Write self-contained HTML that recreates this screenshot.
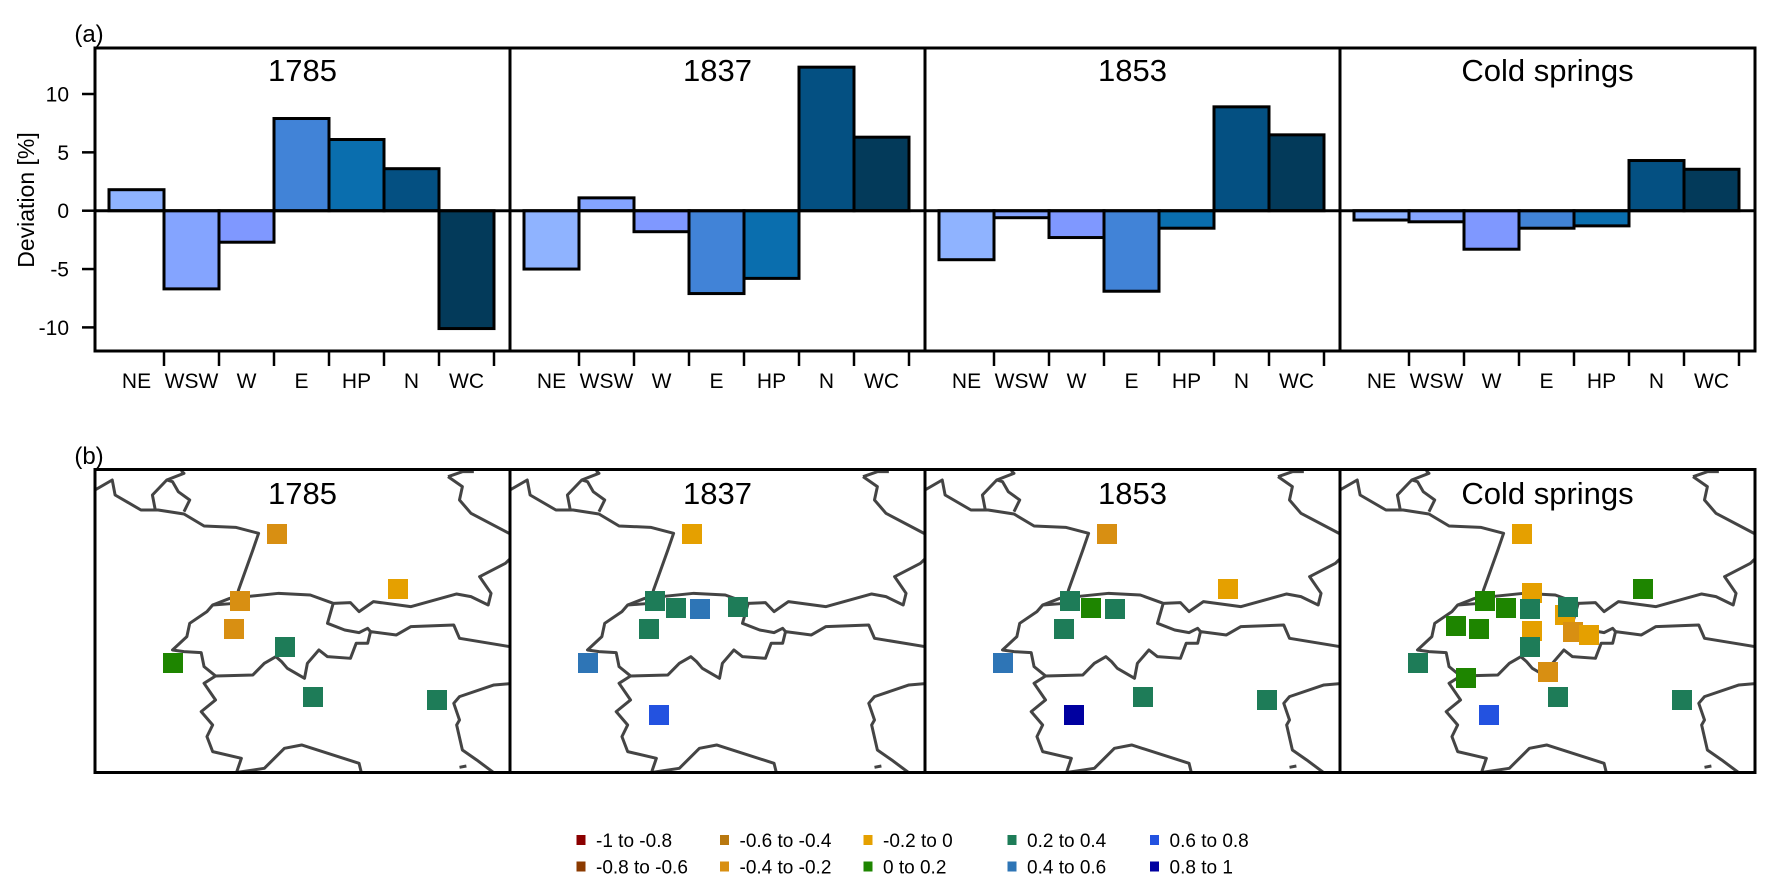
<!DOCTYPE html>
<html><head><meta charset="utf-8">
<style>
html,body{margin:0;padding:0;background:#fff;}
svg{display:block;font-family:"Liberation Sans",Arial,sans-serif;}
</style></head>
<body>
<svg id="fig" width="1775" height="892" viewBox="0 0 1775 892" xmlns="http://www.w3.org/2000/svg">
<defs>
  <clipPath id="clipmap0"><rect x="95" y="469" width="415" height="304"/></clipPath>
  <clipPath id="clipmap1"><rect x="510" y="469" width="415" height="304"/></clipPath>
  <clipPath id="clipmap2"><rect x="925" y="469" width="415" height="304"/></clipPath>
  <clipPath id="clipmap3"><rect x="1340" y="469" width="415" height="304"/></clipPath>
</defs>
<text x="89" y="42" font-size="24" text-anchor="middle">(a)</text>
<text x="89" y="464" font-size="24" text-anchor="middle">(b)</text>
<text transform="translate(34,200) rotate(-90)" font-size="23" text-anchor="middle">Deviation [%]</text>
<g id="bars"></g>
<g id="maps"></g>
<g id="legend"></g>
</svg>
<script>
const panels = ["1785", "1837", "1853", "Cold springs"];
const categories = ["NE", "WSW", "W", "E", "HP", "N", "WC"];
const v1785 = [1.8, -6.7, -2.7, 7.9, 6.1, 3.6, -10.1];
const v1837 = [-5.0, 1.1, -1.8, -7.1, -5.8, 12.3, 6.3];
const v1853 = [-4.2, -0.6, -2.3, -6.9, -1.5, 8.9, 6.5];
const vCold = [-0.8, -0.95, -3.3, -1.5, -1.3, 4.3, 3.55];
const yTicks = [-10, -5, 0, 5, 10];
const barColors = ["#8fb3ff", "#84a4ff", "#7f98ff", "#4183d7", "#0a6eae", "#045082", "#033a5a"];

const legendLabels = ["-1 to -0.8", "-0.8 to -0.6", "-0.6 to -0.4", "-0.4 to -0.2", "-0.2 to 0", "0 to 0.2", "0.2 to 0.4", "0.4 to 0.6", "0.6 to 0.8", "0.8 to 1"];
const classColors = ["#8b0000", "#8b3a00", "#b8780f", "#d88f12", "#e5a000", "#1e8500", "#1e7c58", "#2e75b6", "#2352e0", "#0000a0"];
const st1785X = [182, 303, 145, 139, 78, 190, 218, 342];
const st1785Y = [534, 589, 601, 629, 663, 647, 697, 700];
const st1785C = [3, 4, 3, 3, 5, 6, 6, 6];
const st1837X = [182, 145, 166, 190, 228, 139, 78, 149];
const st1837Y = [534, 601, 608, 609, 607, 629, 663, 715];
const st1837C = [4, 6, 6, 7, 6, 6, 7, 8];
const st1853X = [182, 303, 145, 166, 190, 139, 78, 218, 342, 149];
const st1853Y = [534, 589, 601, 608, 609, 629, 663, 697, 700, 715];
const st1853C = [3, 4, 6, 5, 6, 6, 7, 6, 6, 9];
const stColdX = [182, 303, 145, 166, 192, 190, 225, 228, 233, 249, 192, 116, 139, 190, 78, 126, 208, 218, 342, 149];
const stColdY = [534, 589, 601, 608, 593, 609, 615, 607, 632, 635, 631, 626, 629, 647, 663, 678, 672, 697, 700, 715];
const stColdC = [4, 5, 5, 5, 4, 6, 4, 6, 3, 4, 4, 5, 5, 6, 6, 5, 3, 6, 6, 8];

const NS = "http://www.w3.org/2000/svg";
function mk(tag, attrs, parent) {
  const e = document.createElementNS(NS, tag);
  for (const k in attrs) e.setAttribute(k, attrs[k]);
  parent.appendChild(e);
  return e;
}
const panelLeft = [95, 510, 925, 1340];
const PW = 415;
const aTop = 48, aBot = 351;
const y0 = 210.7, yUnit = 11.67;
function yScale(v) { return y0 - v * yUnit; }
const barW = 55, barOff = 14;
function xScale(p, i) { return panelLeft[p] + barOff + i * barW; }

const barsG = document.getElementById("bars");
const series = [v1785, v1837, v1853, vCold];

yTicks.forEach(t => {
  const y = yScale(t);
  const tk = mk("line", {x1: 82, x2: 95, y1: y, y2: y, stroke: "#000", "stroke-width": 2.5}, barsG);
  
  
  const lb = mk("text", {x: 69, y: y + 7.5, "font-size": 21, "text-anchor": "end"}, barsG);
  lb.textContent = String(t);
  
  
});

series.forEach((vals, p) => {
  const g = mk("g", {}, barsG);
  
  
  vals.forEach((v, i) => {
    const x = xScale(p, i);
    const y = Math.min(yScale(v), y0);
    const h = Math.abs(yScale(v) - y0);
    const r = mk("rect", {x: x, y: y, width: barW, height: h, fill: barColors[i], stroke: "#000", "stroke-width": 3}, g);
    
    
    if (i > 0) {
      const tk = mk("line", {x1: x, x2: x, y1: aBot, y2: 366, stroke: "#000", "stroke-width": 2.5}, g);
      
      
    }
    const lb = mk("text", {x: x + barW / 2, y: 388, "font-size": 21, "text-anchor": "middle"}, g);
    lb.textContent = categories[i];
    
    
  });
  const xe = xScale(p, vals.length);
  const tk = mk("line", {x1: xe, x2: xe, y1: aBot, y2: 366, stroke: "#000", "stroke-width": 2.5}, g);
  
  
  const tt = mk("text", {x: panelLeft[p] + PW / 2, y: 81, "font-size": 31, "text-anchor": "middle"}, g);
  tt.textContent = panels[p];
  
  
  const fr = mk("rect", {x: panelLeft[p], y: aTop, width: PW, height: aBot - aTop, fill: "none", stroke: "#000", "stroke-width": 3}, g);
  
  
});
const zl = mk("line", {x1: 95, x2: 1755, y1: y0, y2: y0, stroke: "#000", "stroke-width": 3}, barsG);



const borders = [
  "M165,180 L195,150 L200,195 L245,240 L275,240 L320,252 L355,288 L410,292 L450,310 L440,360 L415,480 L410,520",
  "M370,525 L400,505 L485,490 L540,495 L580,520 L610,518 L625,545 L650,515 L715,530 L795,492 L820,500 L850,525 L855,490 L835,440 L880,400 L895,375",
  "M410,520 L370,525 L360,545 L330,580 L325,620 L300,660 L320,665 L350,668 L355,710 L375,738 L440,735 L460,700 L480,680 L490,695 L500,715 L530,745 L535,700 L555,660 L570,680 L610,685 L620,640 L640,640 L645,605 L690,615 L715,590 L790,585 L800,625 L895,652",
  "M580,520 L570,580 L600,600 L625,608 L640,595 L645,605",
  "M375,738 L355,760 L375,810 L350,845 L370,885 L360,920 L370,965 L420,985 L410,1035",
  "M410,1028 L460,1015 L495,955 L525,945 L625,1000 L630,1035",
  "M780,140 L805,125 L825,125",
  "M780,140 L805,170 L800,210 L820,250 L895,318",
  "M895,760 L860,765 L800,800 L790,820 L800,870 L795,885 L805,960 L830,990 L865,1035",
  "M270,240 L265,195 L290,150 L320,130 L315,122",
  "M290,150 L300,155 L310,185 L330,210 L320,245",
  "M800,1012 L812,1008"
];
const mapsG = document.getElementById("maps");
const stX = [st1785X, st1837X, st1853X, stColdX];
const stY = [st1785Y, st1837Y, st1853Y, stColdY];
const stC = [st1785C, st1837C, st1853C, stColdC];
for (let p = 0; p < 4; p++) {
  const g = mk("g", {"clip-path": "url(#clipmap" + p + ")"}, mapsG);
  
  
  const bg = mk("g", {transform: "translate(" + (panelLeft[p] - 94.7) + ",430) scale(0.574,0.3333)"}, g);
  borders.forEach(d => {
    const path = mk("path", {d: d, fill: "none", stroke: "#444", "stroke-width": 3, "vector-effect": "non-scaling-stroke", "stroke-linejoin": "round"}, bg);
    
    
  });
  stX[p].forEach((x, i) => {
    const r = mk("rect", {x: panelLeft[p] + x - 10, y: stY[p][i] - 10, width: 20, height: 20, fill: classColors[stC[p][i]]}, g);
    
    
  });
  const tt = mk("text", {x: panelLeft[p] + PW / 2, y: 504, "font-size": 31, "text-anchor": "middle"}, mapsG);
  tt.textContent = panels[p];
  
  
  const fr = mk("rect", {x: panelLeft[p], y: 469.5, width: PW, height: 303, fill: "none", stroke: "#000", "stroke-width": 3}, mapsG);
  
  
}

const legG = document.getElementById("legend");
const colSw = [581, 724.5, 868, 1012, 1154.5];
legendLabels.forEach((lab, i) => {
  const col = Math.floor(i / 2), row = i % 2;
  const y = row === 0 ? 840 : 866.5;
  const g = mk("g", {}, legG);
  
  
  mk("rect", {x: colSw[col] - 4.5, y: y - 5, width: 9, height: 10, fill: classColors[i]}, g);
  const t = mk("text", {x: colSw[col] + 15, y: y + 7, "font-size": 19}, g);
  t.textContent = lab;
});
</script>
</body></html>
